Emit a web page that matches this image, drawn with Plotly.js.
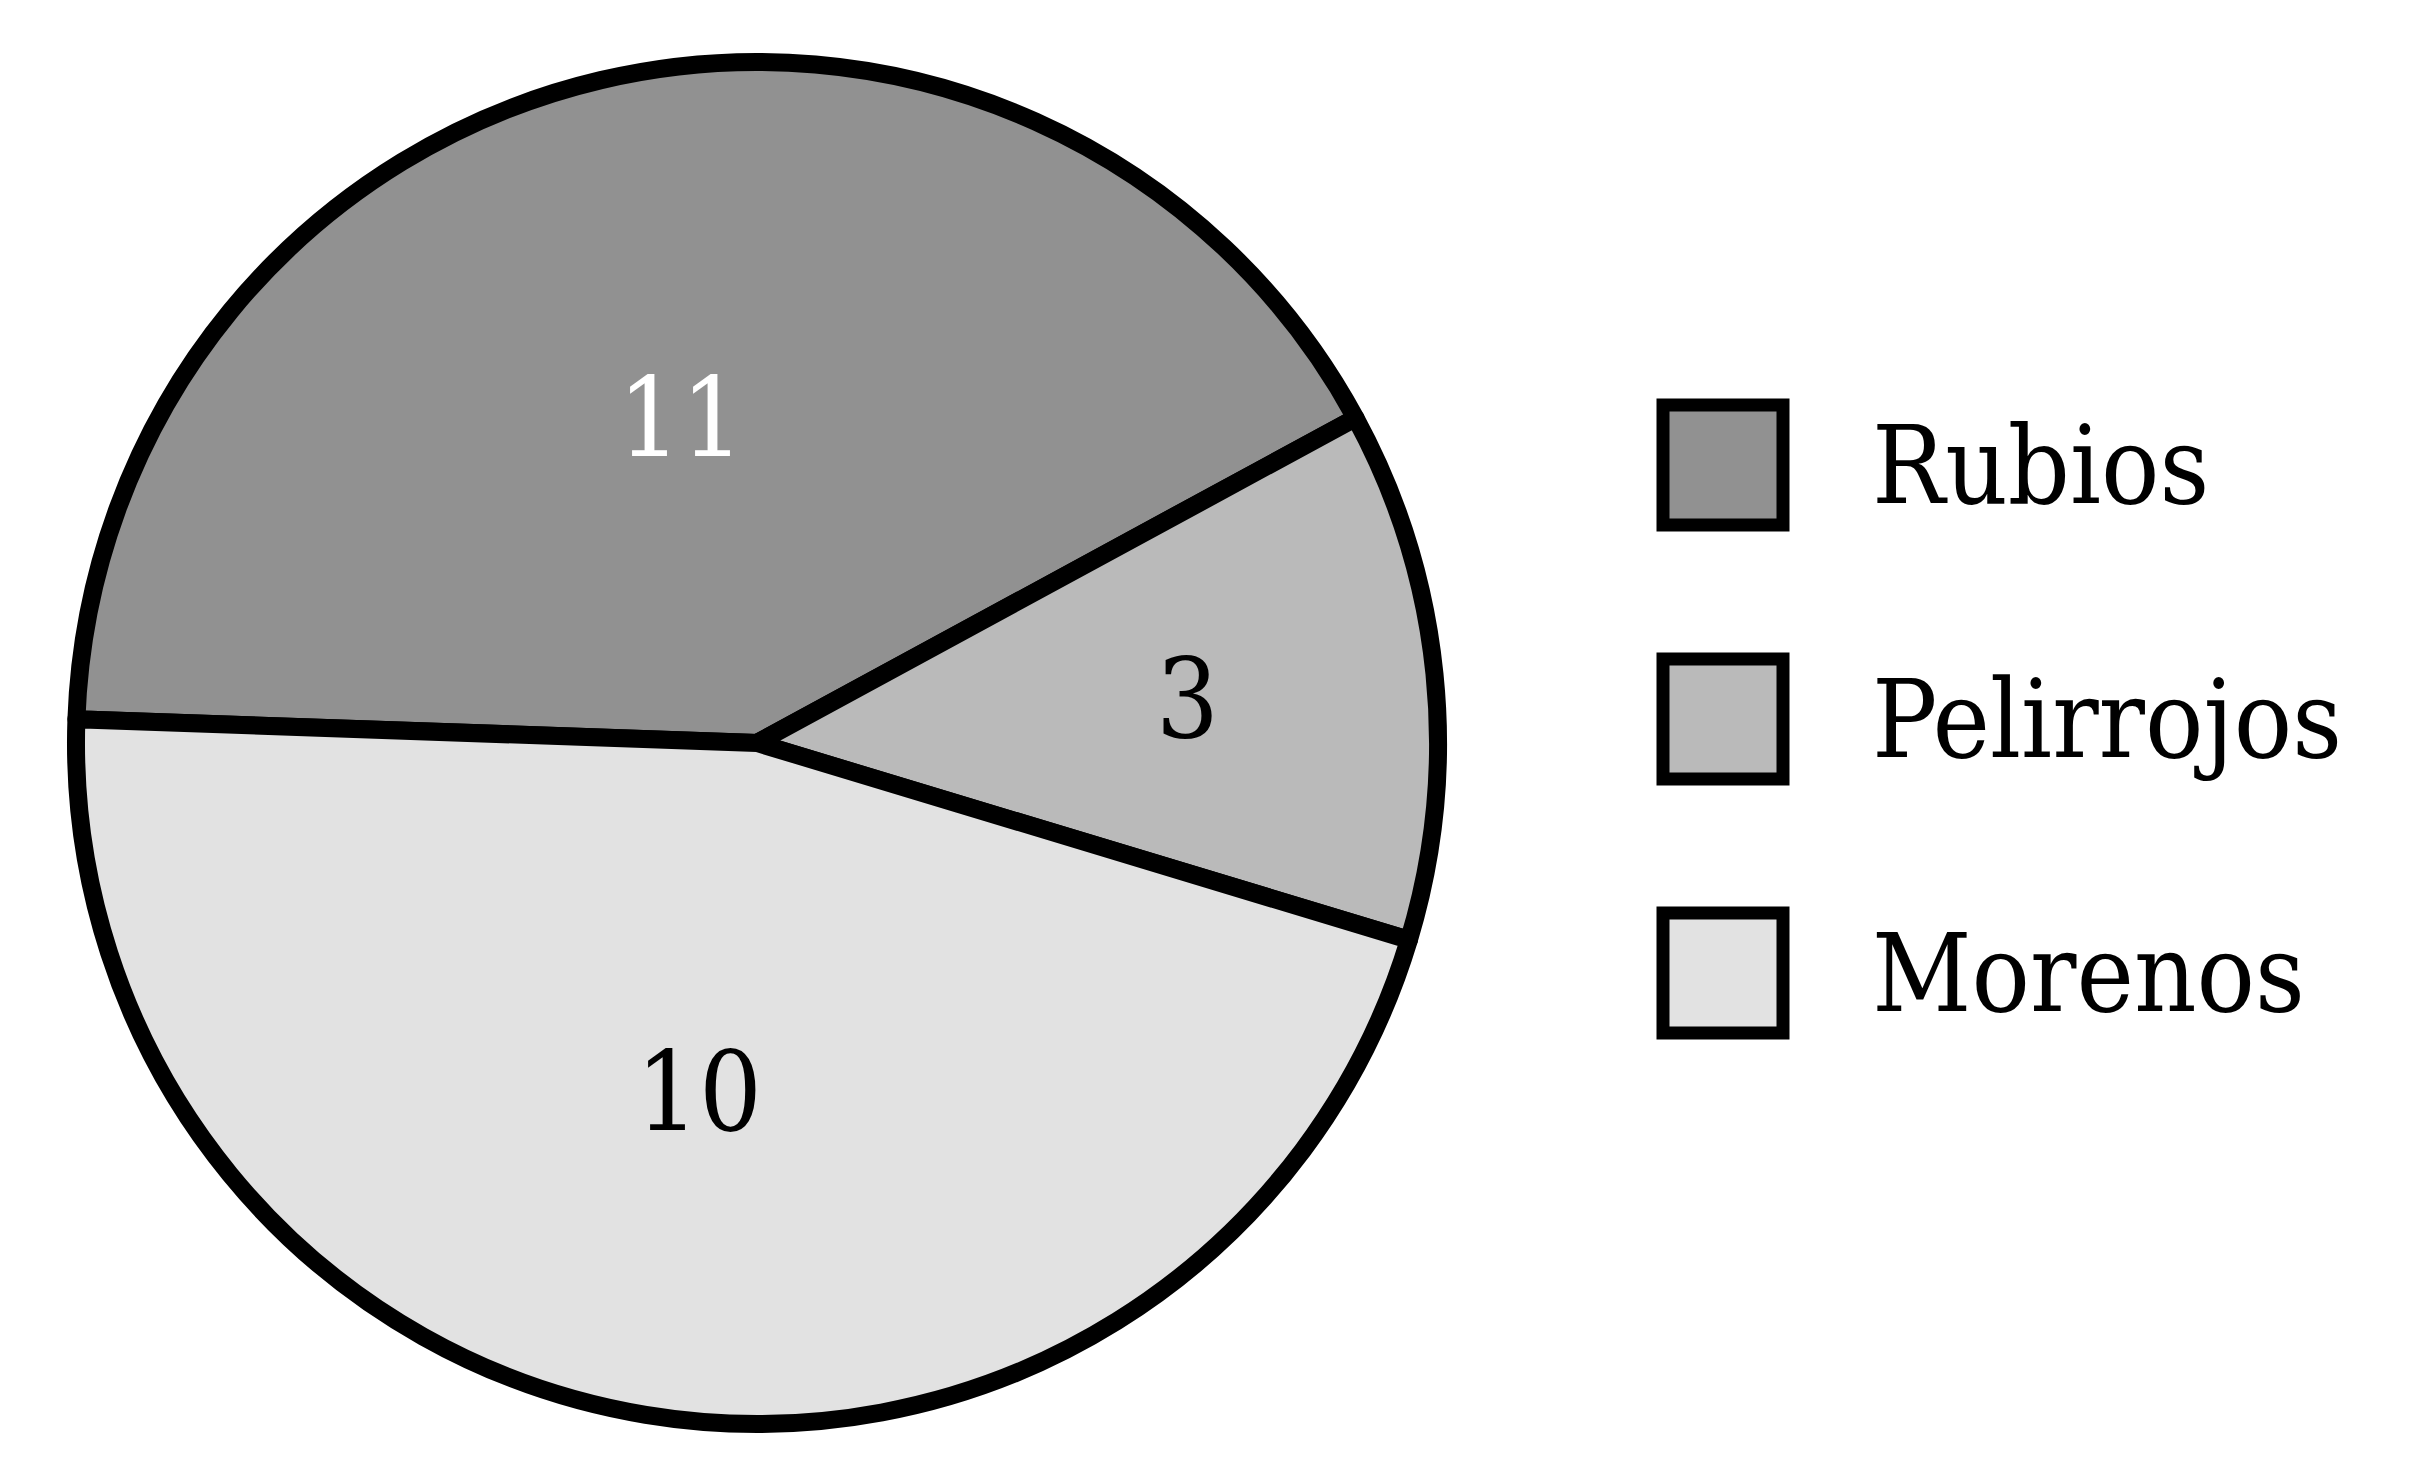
<!DOCTYPE html>
<html>
<head>
<meta charset="utf-8">
<script src="https://cdn.plot.ly/plotly-3.0.1.min.js"></script>
<style>
  html, body { margin: 0; padding: 0; background: #fff; }
  #chart { width: 2430px; height: 1480px; }
</style>
</head>
<body>
<div id="chart"></div>
<script>
"use strict";
// categories and what the picture prints on each slice
var labels = ['Rubios', 'Pelirrojos', 'Morenos'];
var counts = [11, 3, 10];
// slice sizes as they are drawn in the picture (degrees of arc)
var sliceDegrees = [149.5, 45.3, 165.2];
var colors = ['#919191', '#bababa', '#e2e2e2'];
var textColors = ['#ffffff', '#000000', '#000000'];

var W = 2430, H = 1480;
var FONT = '"DejaVu Serif Condensed", "DejaVu Serif", serif';

// pie placement in pixels : centre and radius (to the middle of the stroke)
var cx = 757, cy = 743, r = 681;
var rotation = -88;                    // start of first slice, clockwise from 12 o'clock
var labelRadius = [0.49, 0.635, 0.52]; // where the count sits along each slice bisector

var pie = {
	type: 'pie',
	labels: labels,
	values: sliceDegrees,
	textinfo: 'none',
	sort: false,
	direction: 'clockwise',
	rotation: rotation,
	marker: {
		colors: colors,
		line: { color: '#000000', width: 18 }
	},
	hoverinfo: 'none',
	showlegend: false,
	domain: {
		x: [(cx - r) / W, (cx + r) / W],
		y: [(H - cy - r) / H, (H - cy + r) / H]
	}
};

var shapes = [], annotations = [];

// counts printed inside the slices, on each slice bisector
var total = sliceDegrees.reduce(function(a, b){ return a + b; }, 0);
var acc = 0;
sliceDegrees.forEach(function(v, i){
	var mid = (rotation + (acc + v / 2) / total * 360) * Math.PI / 180;
	acc += v;
	var px = cx + labelRadius[i] * r * Math.sin(mid);
	var py = cy - labelRadius[i] * r * Math.cos(mid);
	annotations.push({
		xref: 'paper', yref: 'paper',
		x: px / W, y: 1 - py / H,
		xanchor: 'center', yanchor: 'middle',
		text: String(counts[i]), showarrow: false,
		font: { family: FONT, size: 110, color: textColors[i] }
	});
});

// hand-made legend : big boxes, one row per category
var rowY0 = 465, rowStep = 254, boxX0 = 1663, boxSize = 120, textX = 1870;
labels.forEach(function(label, i){
	var yc = rowY0 + i * rowStep;
	shapes.push({
		type: 'rect', xref: 'paper', yref: 'paper',
		x0: boxX0 / W, x1: (boxX0 + boxSize) / W,
		y0: 1 - (yc - boxSize / 2) / H, y1: 1 - (yc + boxSize / 2) / H,
		fillcolor: colors[i],
		line: { color: '#000000', width: 13 }
	});
	annotations.push({
		xref: 'paper', yref: 'paper',
		x: textX / W, y: 1 - yc / H,
		xanchor: 'left', yanchor: 'middle',
		text: label, showarrow: false,
		font: { family: FONT, size: 108, color: '#000000' }
	});
});

var layout = {
	width: W,
	height: H,
	margin: { l: 0, r: 0, t: 0, b: 0 },
	paper_bgcolor: '#ffffff',
	plot_bgcolor: '#ffffff',
	showlegend: false,
	shapes: shapes,
	annotations: annotations
};

Plotly.newPlot('chart', [pie], layout, { displayModeBar: false, staticPlot: true });
</script>
</body>
</html>
